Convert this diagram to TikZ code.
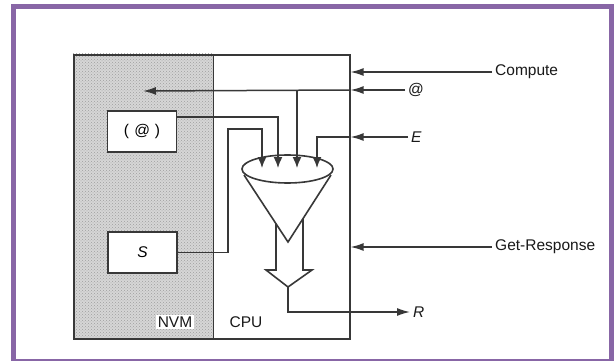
\documentclass[tikz,border=0pt]{standalone}
\usepackage{fontspec}
\setmainfont{Liberation Sans}
\usetikzlibrary{arrows.meta,patterns}
\definecolor{frame}{HTML}{8866A6}
\definecolor{ink}{HTML}{383838}
\tikzset{
  wire/.style={draw=ink, line width=1.5pt},
  ext/.style={wire, -{Latex[length=13pt,width=8pt]}},
  inarrow/.style={wire, -{Latex[length=11pt,width=9pt]}},
  lbl/.style={font=\fontsize{15.5}{17}\selectfont, text=black!90, inner sep=3pt},
  memb/.style={draw=ink, line width=1.6pt, fill=white, minimum width=69pt, minimum height=41pt, font=\fontsize{15.5}{17}\selectfont\itshape},
  body/.style={draw=ink, line width=1.6pt},
}
\begin{document}
\begin{tikzpicture}[x=1pt,y=-1pt]
\useasboundingbox (0,0) rectangle (614,361);
\fill[frame] (11,4) rectangle (614,361);
\fill[white] (16,9) rectangle (609,359);
% regions
\path[fill=gray!32] (73,54) rectangle (213,338);
\path[pattern=crosshatch dots, pattern color=gray!75] (73,54) rectangle (213,338);
\node[body, minimum width=276pt, minimum height=284pt, anchor=north west, inner sep=0] (sys) at (73,54) {};
\node[minimum width=140pt, minimum height=284pt, anchor=north west, inner sep=0] (nvm) at (73,54) {};
\draw[body] (nvm.north east) -- (nvm.south east);
\node[lbl, fill=white, inner sep=2pt] (nvml) at (175,322) {NVM};
\node[lbl] (cpul) at (246,322) {CPU};
% memory boxes
\node[memb] (atbox) at (142,131.5) {\upshape(\hspace{5pt}\itshape @\hspace{5pt}\upshape)};
\node[memb] (sbox) at (142.5,252.5) {S};
% funnel
\draw[body] (276,223.7) -- (276,270) -- (266,270) -- (288,287) -- (312,270) -- (303,270) -- (303,218.6);
\draw[body] (244,175) -- (288,242) -- (331,175);
\draw[body] (287.5,169) ellipse [x radius=45.5pt, y radius=14pt];
\coordinate (bt) at (288,287);
% funnel input points
\coordinate (t1) at (262,168);
\coordinate (t2) at (278,168);
\coordinate (t3) at (297,168);
\coordinate (t4) at (317,168);
\coordinate (j1) at (228,129);
\coordinate (nvmin) at (143,91);
\coordinate (b3) at (297,91);
% external labels
\node[lbl, anchor=west] (comp) at (492,72) {Compute};
\node[lbl, anchor=west] (atl) at (405,90) {@};
\node[lbl, anchor=west] (el) at (408,137) {\itshape E};
\node[lbl, anchor=west] (gr) at (492,247) {Get-Response};
\node[lbl, anchor=west] (rl) at (410,312) {\itshape R};
% external arrows
\draw[ext] (comp.west) -- (sys.east |- comp.west);
\draw[ext] (atl.west) -- (sys.east |- atl.west);
\draw[ext] (el.west) -- (sys.east |- el.west);
\draw[ext] (gr.west) -- (sys.east |- gr.west);
\draw[ext] (bt) |- (rl.west);
% internal wires
\draw[ext] (sys.east |- atl.west) -- (nvmin);
\draw[inarrow] (b3) -- (t3);
\draw[inarrow] (sys.east |- el.west) -| (t4);
\draw[inarrow] ([yshift=14.5pt]atbox.east) -| (t2);
\draw[inarrow] (sbox.east) -| (j1) -| (t1);
\end{tikzpicture}
\end{document}
